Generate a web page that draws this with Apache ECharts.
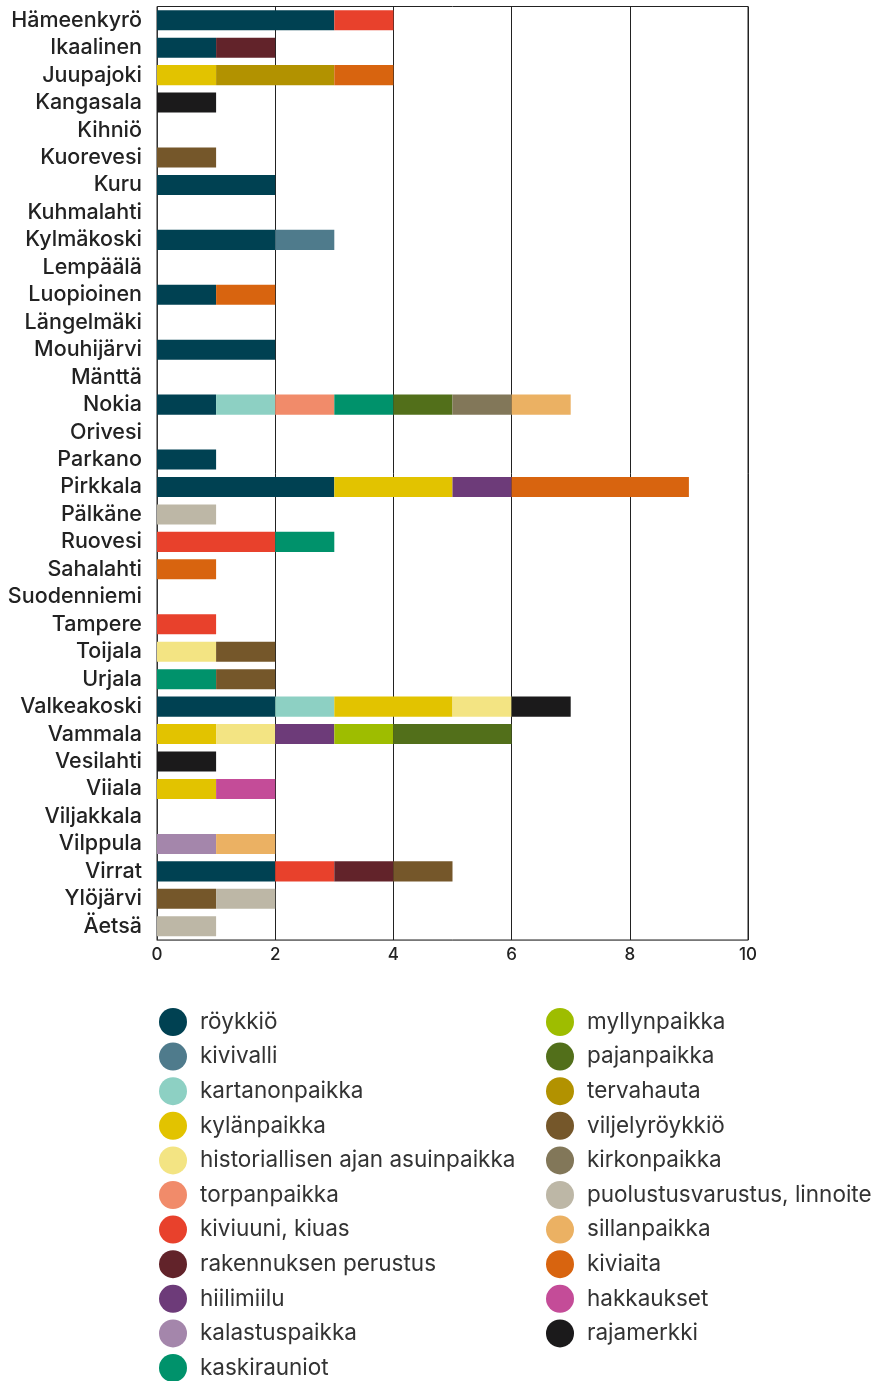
<!DOCTYPE html>
<html><head><meta charset="utf-8">
<script src="https://cdn.jsdelivr.net/npm/echarts@6/dist/echarts.min.js"></script>
<style>html,body{margin:0;padding:0;background:#fff}#c{width:878px;height:1381px}</style>
</head><body><div id="c"></div>
<script>
const categories = ["Hämeenkyrö","Ikaalinen","Juupajoki","Kangasala","Kihniö","Kuorevesi","Kuru","Kuhmalahti","Kylmäkoski","Lempäälä","Luopioinen","Längelmäki","Mouhijärvi","Mänttä","Nokia","Orivesi","Parkano","Pirkkala","Pälkäne","Ruovesi","Sahalahti","Suodenniemi","Tampere","Toijala","Urjala","Valkeakoski","Vammala","Vesilahti","Viiala","Viljakkala","Vilppula","Virrat","Ylöjärvi","Äetsä"];
const xTicks = [0,2,4,6,8,10];
// values per category, in category order
const roykkio        = [3,1,0,0,0,0,2,0,2,0,1,0,2,0,1,0,1,3,0,0,0,0,0,0,0,2,0,0,0,0,0,2,0,0];
const kivivalli      = [0,0,0,0,0,0,0,0,1,0,0,0,0,0,0,0,0,0,0,0,0,0,0,0,0,0,0,0,0,0,0,0,0,0];
const kartanonpaikka = [0,0,0,0,0,0,0,0,0,0,0,0,0,0,1,0,0,0,0,0,0,0,0,0,0,1,0,0,0,0,0,0,0,0];
const kylanpaikka    = [0,0,1,0,0,0,0,0,0,0,0,0,0,0,0,0,0,2,0,0,0,0,0,0,0,2,1,0,1,0,0,0,0,0];
const historiallisen = [0,0,0,0,0,0,0,0,0,0,0,0,0,0,0,0,0,0,0,0,0,0,0,1,0,1,1,0,0,0,0,0,0,0];
const torpanpaikka   = [0,0,0,0,0,0,0,0,0,0,0,0,0,0,1,0,0,0,0,0,0,0,0,0,0,0,0,0,0,0,0,0,0,0];
const kiviuuni       = [1,0,0,0,0,0,0,0,0,0,0,0,0,0,0,0,0,0,0,2,0,0,1,0,0,0,0,0,0,0,0,1,0,0];
const rakennuksen    = [0,1,0,0,0,0,0,0,0,0,0,0,0,0,0,0,0,0,0,0,0,0,0,0,0,0,0,0,0,0,0,1,0,0];
const hiilimiilu     = [0,0,0,0,0,0,0,0,0,0,0,0,0,0,0,0,0,1,0,0,0,0,0,0,0,0,1,0,0,0,0,0,0,0];
const kalastuspaikka = [0,0,0,0,0,0,0,0,0,0,0,0,0,0,0,0,0,0,0,0,0,0,0,0,0,0,0,0,0,0,1,0,0,0];
const kaskirauniot   = [0,0,0,0,0,0,0,0,0,0,0,0,0,0,1,0,0,0,0,1,0,0,0,0,1,0,0,0,0,0,0,0,0,0];
const myllynpaikka   = [0,0,0,0,0,0,0,0,0,0,0,0,0,0,0,0,0,0,0,0,0,0,0,0,0,0,1,0,0,0,0,0,0,0];
const pajanpaikka    = [0,0,0,0,0,0,0,0,0,0,0,0,0,0,1,0,0,0,0,0,0,0,0,0,0,0,2,0,0,0,0,0,0,0];
const tervahauta     = [0,0,2,0,0,0,0,0,0,0,0,0,0,0,0,0,0,0,0,0,0,0,0,0,0,0,0,0,0,0,0,0,0,0];
const viljelyroykkio = [0,0,0,0,0,1,0,0,0,0,0,0,0,0,0,0,0,0,0,0,0,0,0,1,1,0,0,0,0,0,0,1,1,0];
const kirkonpaikka   = [0,0,0,0,0,0,0,0,0,0,0,0,0,0,1,0,0,0,0,0,0,0,0,0,0,0,0,0,0,0,0,0,0,0];
const puolustus      = [0,0,0,0,0,0,0,0,0,0,0,0,0,0,0,0,0,0,1,0,0,0,0,0,0,0,0,0,0,0,0,0,1,1];
const sillanpaikka   = [0,0,0,0,0,0,0,0,0,0,0,0,0,0,1,0,0,0,0,0,0,0,0,0,0,0,0,0,0,0,1,0,0,0];
const kiviaita       = [0,0,1,0,0,0,0,0,0,0,1,0,0,0,0,0,0,3,0,0,1,0,0,0,0,0,0,0,0,0,0,0,0,0];
const hakkaukset     = [0,0,0,0,0,0,0,0,0,0,0,0,0,0,0,0,0,0,0,0,0,0,0,0,0,0,0,0,1,0,0,0,0,0];
const rajamerkki     = [0,0,0,1,0,0,0,0,0,0,0,0,0,0,0,0,0,0,0,0,0,0,0,0,0,1,0,1,0,0,0,0,0,0];

const seriesNames = ["röykkiö","kivivalli","kartanonpaikka","kylänpaikka","historiallisen ajan asuinpaikka","torpanpaikka","kiviuuni, kiuas","rakennuksen perustus","hiilimiilu","kalastuspaikka","kaskirauniot","myllynpaikka","pajanpaikka","tervahauta","viljelyröykkiö","kirkonpaikka","puolustusvarustus, linnoite","sillanpaikka","kiviaita","hakkaukset","rajamerkki"];
const seriesData = [roykkio,kivivalli,kartanonpaikka,kylanpaikka,historiallisen,torpanpaikka,kiviuuni,rakennuksen,hiilimiilu,kalastuspaikka,kaskirauniot,myllynpaikka,pajanpaikka,tervahauta,viljelyroykkio,kirkonpaikka,puolustus,sillanpaikka,kiviaita,hakkaukset,rajamerkki];
const colors = ["#004152","#4f7b8c","#8dd0c3","#e2c300","#f3e483","#f18b6a","#e8412c","#62232a","#6d3b79","#a486ab","#00926b","#9ebd00","#526f1a","#b29200","#75572a","#827759","#bdb7a6","#ebb163","#d8640f","#c44c98","#1b1a1b"];

const font = "Inter, 'Noto Sans', sans-serif";
const chart = echarts.init(document.getElementById('c'), null, {renderer:'canvas'});
const series = seriesNames.map((n,i)=>({
  name:n, type:'bar', stack:'s', barCategoryGap:'27%',
  itemStyle:{color:colors[i]},
  data: seriesData[i].map(v=> v===0 ? null : v),
  animation:false
}));
const legendText = {fontSize:22.5, color:'#333', fontFamily:font, padding:[0,0,0,8]};
const legendBase = {orient:'vertical', top:1008, height:380, padding:0, icon:'circle', itemWidth:28, itemHeight:28, itemGap:6.6, textStyle:legendText, selectedMode:false};
chart.setOption({
  animation:false,
  color: colors,
  grid:{left:157, right:130, top:6.5, bottom:441, show:true, borderColor:'#222', borderWidth:1, containLabel:false},
  xAxis:{type:'value', min:0, max:10, interval:2,
    axisLine:{show:true, lineStyle:{color:'#777', width:1}},
    axisTick:{show:false},
    splitLine:{show:true, lineStyle:{color:'#222', width:1}},
    axisLabel:{fontSize:17, color:'#222', fontFamily:font, margin:6, fontWeight:500, formatter:v=>String(v)}},
  yAxis:{type:'category', data:categories, inverse:true,
    axisLine:{show:true, lineStyle:{color:'#333', width:1}},
    axisTick:{show:false},
    axisLabel:{interval:0, hideOverlap:false, fontSize:21.5, color:'#222', fontFamily:font, margin:15, fontWeight:500, padding:[4,0,0,0]}},
  legend:[
    Object.assign({data:seriesNames.slice(0,11), left:159}, legendBase),
    Object.assign({data:seriesNames.slice(11), left:546}, legendBase)
  ],
  series: series
});
</script></body></html>
